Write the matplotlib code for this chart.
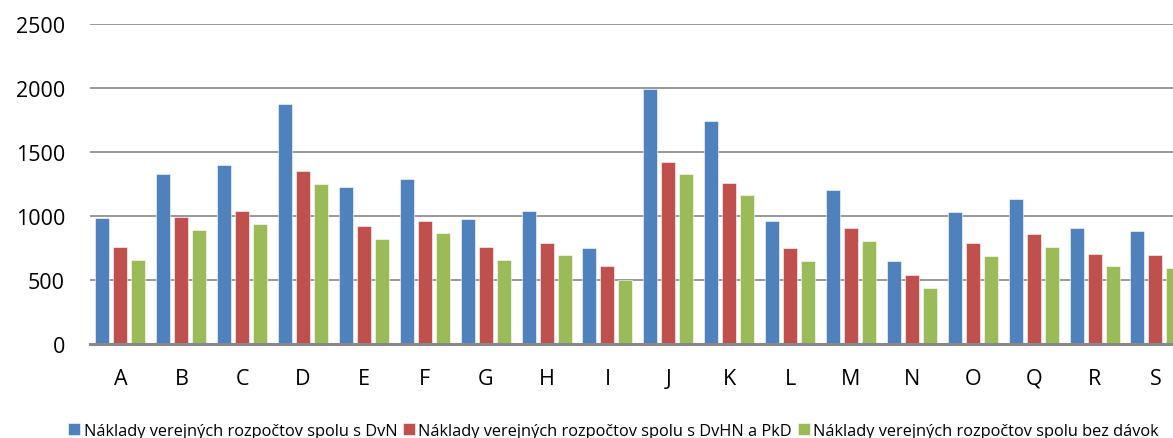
import numpy as np
import matplotlib
matplotlib.use("Agg")
import matplotlib.pyplot as plt

categories = ["A", "B", "C", "D", "E", "F", "G", "H", "I",
              "J", "K", "L", "M", "N", "O", "Q", "R", "S"]

s_dvn = [985, 1331, 1401, 1875, 1224, 1289, 979, 1036, 750,
         1995, 1745, 961, 1206, 648, 1031, 1130, 904, 885]
s_dvhn_pkd = [760, 990, 1036, 1349, 919, 961, 755, 789, 607,
              1419, 1260, 747, 904, 536, 789, 857, 706, 695]
bez_davok = [659, 891, 935, 1250, 820, 865, 654, 695, 503,
             1326, 1164, 646, 805, 440, 690, 755, 607, 594]

labels = ["Náklady verejných rozpočtov spolu s DvN",
          "Náklady verejných rozpočtov spolu s DvHN a PkD",
          "Náklady verejných rozpočtov spolu bez dávok"]
colors = ["#4F81BD", "#C0504D", "#9BBB59"]

W, H = 1173, 439
fig = plt.figure(figsize=(W / 100, H / 100), dpi=100)
ax = fig.add_axes([90 / W, 94 / H, (W - 90) / W, 320 / H])

x = np.arange(len(categories))
slot = 60.88  # px per category
bw = 14 / slot
stride = 18 / slot

for i, (vals, lab, c) in enumerate(zip([s_dvn, s_dvhn_pkd, bez_davok],
                                       labels, colors)):
    ax.bar(x + (i - 1) * stride, vals, width=bw, color=c, label=lab,
           edgecolor="white", linewidth=0.4, zorder=3)

ax.set_ylim(0, 2500)
ax.set_xlim(-0.5, -0.5 + (W - 90) / slot)
ax.set_yticks(range(0, 2501, 500))
ax.set_xticks(x)
ax.set_xticklabels(categories)
ax.yaxis.grid(True, color="#999999", linewidth=1.4, zorder=0)
ax.set_axisbelow(True)

for side in ["top", "right", "left"]:
    ax.spines[side].set_visible(False)
ax.spines["bottom"].set_color("#888888")
ax.spines["bottom"].set_linewidth(2.2)
ax.spines["bottom"].set_zorder(4)

ax.tick_params(axis="both", length=0, labelsize=15.5)
ax.tick_params(axis="x", pad=17)
ax.tick_params(axis="y", pad=18)
for t in ax.get_xticklabels() + ax.get_yticklabels():
    t.set_fontfamily("Open Sans")

fig.legend(loc="lower center", bbox_to_anchor=(0.523, -0.035), ncol=3,
           frameon=False, handlelength=0.75, handleheight=0.75,
           handletextpad=0.2, columnspacing=0.35,
           prop={"family": "Open Sans", "size": 11.8})

fig.savefig("out.png", dpi=100)
